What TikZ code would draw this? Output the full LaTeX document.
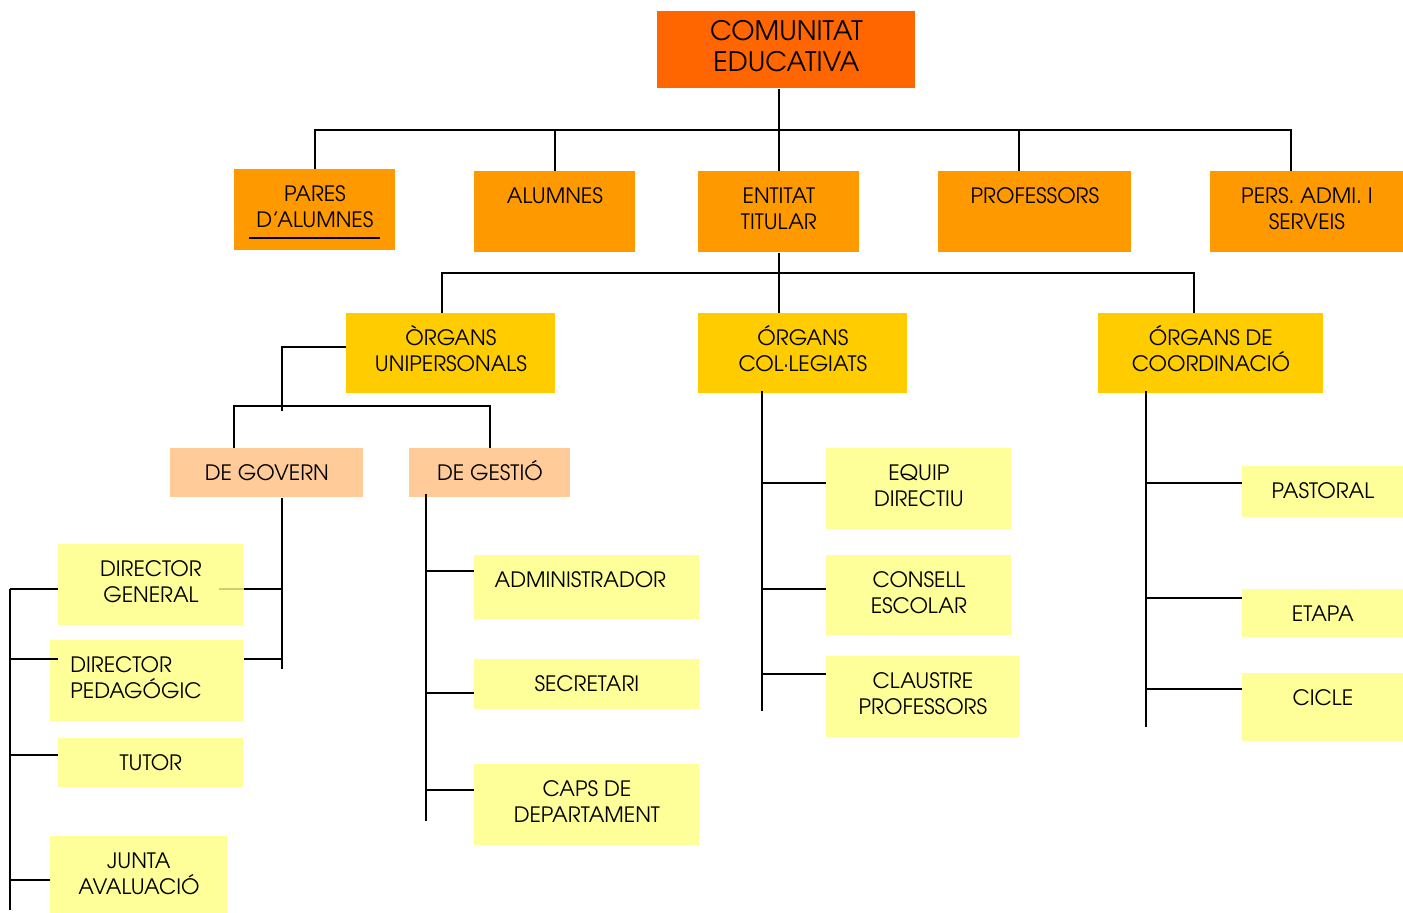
\documentclass[tikz,border=0pt]{standalone}
\usepackage{fontspec}
\setmainfont{TeX Gyre Adventor}
\usetikzlibrary{positioning}

\definecolor{rootorange}{HTML}{FF6600}
\definecolor{grouporange}{HTML}{FF9900}
\definecolor{organyellow}{HTML}{FFCC00}
\definecolor{subpeach}{HTML}{FFCC99}
\definecolor{leafyellow}{HTML}{FFFF99}

\newcommand\capstrut{\rule{0pt}{1em}}

\tikzset{
  box/.style={anchor=north west, inner sep=0pt, draw=none},
  orgbox/.style n args={3}{box, fill=#1, minimum width=#2, minimum height=#3},
  txt/.style={anchor=north, yshift=-5.3pt, align=center, inner sep=0pt,
    font=\fontsize{10.6}{13.3}\selectfont},
  bigtxt/.style={anchor=north, yshift=-1.05pt, align=center, inner sep=0pt,
    font=\fontsize{13.4}{15.5}\selectfont},
  link/.style={line width=1pt},
  faint/.style={line width=1pt, draw=leafyellow!80!black}
}

\begin{document}
\begin{tikzpicture}[x=0.5pt,y=-0.5pt]
  \useasboundingbox (0,0) rectangle (1403,913);

  % top
  \node[orgbox={rootorange}{129pt}{38.5pt}, label={[bigtxt]north:{\capstrut COMUNITAT\\EDUCATIVA}}] (comunitat) at (657,11) {};

  % second row
  \node[orgbox={grouporange}{80.5pt}{40.5pt}, label={[txt]north:{\capstrut PARES\\D’ALUMNES}}] (pares) at (234,169) {};
  \node[orgbox={grouporange}{80.5pt}{40.5pt}, label={[txt]north:{\capstrut ALUMNES}}] (alumnes) at (474,171) {};
  \node[orgbox={grouporange}{80.5pt}{40.5pt}, label={[txt]north:{\capstrut ENTITAT\\TITULAR}}] (entitat) at (698,171) {};
  \node[orgbox={grouporange}{96.5pt}{40.5pt}, label={[txt]north:{\capstrut PROFESSORS}}] (professors) at (938,171) {};
  \node[orgbox={grouporange}{96.5pt}{40.5pt}, label={[txt]north:{\capstrut PERS. ADMI. I\\SERVEIS}}] (pers) at (1210,171) {};

  % organs
  \node[orgbox={organyellow}{104.5pt}{40pt}, label={[txt]north:{\capstrut ÒRGANS\\UNIPERSONALS}}] (unip) at (346,313) {};
  \node[orgbox={organyellow}{104.5pt}{40pt}, label={[txt]north:{\capstrut ÓRGANS\\COL·LEGIATS}}] (colleg) at (698,313) {};
  \node[orgbox={organyellow}{112.5pt}{40pt}, label={[txt]north:{\capstrut ÓRGANS DE\\COORDINACIÓ}}] (coord) at (1098,313) {};

  % unipersonals
  \node[orgbox={subpeach}{96.5pt}{24.5pt}, label={[txt]north:{\capstrut DE GOVERN}}] (govern) at (170,448) {};
  \node[orgbox={subpeach}{80.5pt}{24.5pt}, label={[txt]north:{\capstrut DE GESTIÓ}}] (gestio) at (409,448) {};

  \node[orgbox={leafyellow}{92.5pt}{40.5pt}, label={[txt]north:{\capstrut DIRECTOR\\GENERAL}}] (dirgen) at (58,544) {};
  \node[orgbox={leafyellow}{96.5pt}{40.5pt}, label={[txt, anchor=north west, align=left, xshift=10pt]north west:{\capstrut DIRECTOR\\PEDAGÓGIC}}] (dirped) at (50,640) {};
  \node[orgbox={leafyellow}{92.5pt}{24.5pt}, label={[txt]north:{\capstrut TUTOR}}] (tutor) at (58,738) {};
  \node[orgbox={leafyellow}{88.5pt}{38.5pt}, label={[txt]north:{\capstrut JUNTA\\AVALUACIÓ}}] (junta) at (50,836) {};

  \node[orgbox={leafyellow}{112.5pt}{32pt}, label={[txt, xshift=-3.25pt]north:{\capstrut ADMINISTRADOR}}] (admin) at (474,555) {};
  \node[orgbox={leafyellow}{112.5pt}{25pt}, label={[txt]north:{\capstrut SECRETARI}}] (secretari) at (474,659) {};
  \node[orgbox={leafyellow}{112.5pt}{40.5pt}, label={[txt]north:{\capstrut CAPS DE\\DEPARTAMENT}}] (caps) at (474,764) {};

  % col.legiats
  \node[orgbox={leafyellow}{92.5pt}{40.5pt}, label={[txt]north:{\capstrut EQUIP\\DIRECTIU}}] (equip) at (826,448) {};
  \node[orgbox={leafyellow}{92.5pt}{40pt}, label={[txt]north:{\capstrut CONSELL\\ESCOLAR}}] (consell) at (826,555) {};
  \node[orgbox={leafyellow}{96.5pt}{40.5pt}, label={[txt]north:{\capstrut CLAUSTRE\\PROFESSORS}}] (claustre) at (826,656) {};

  % coordinacio
  \node[orgbox={leafyellow}{80.5pt}{25.5pt}, label={[txt]north:{\capstrut PASTORAL}}] (pastoral) at (1242,466) {};
  \node[orgbox={leafyellow}{80.5pt}{24pt}, label={[txt]north:{\capstrut ETAPA}}] (etapa) at (1242,589) {};
  \node[orgbox={leafyellow}{80.5pt}{34pt}, label={[txt]north:{\capstrut CICLE}}] (cicle) at (1242,673) {};

  \draw[link] ([shift={(7.5pt,-34.5pt)}]pares.north west) -- ([shift={(-8pt,-34.5pt)}]pares.north east);

  % connectors
  \coordinate (bus1) at (0,130);
  \coordinate (bus2) at (0,273);
  \coordinate (bus3) at (0,406);

  \draw[link] (entitat.north) -- (entitat.north |- comunitat.south);
  \draw[link] (pares.north) -- (pares.north |- bus1) -- ([xshift=-8pt]pers.north |- bus1) -- ([xshift=-8pt]pers.north);
  \foreach \n/\dx in {alumnes/0pt, professors/-8pt}
    \draw[link] ([xshift=\dx]\n.north) -- ([xshift=\dx]\n.north |- bus1);

  \draw[link] (entitat.south) -- (entitat.south |- colleg.north);
  \draw[link] ([xshift=-4.25pt]unip.north) -- ([xshift=-4.25pt]unip.north |- bus2) -- ([xshift=-8.25pt]coord.north |- bus2) -- ([xshift=-8.25pt]coord.north);

  \coordinate (govtrunk) at ([xshift=7.75pt]govern.south);
  \draw[link] ([yshift=3pt]unip.west) -| ([yshift=-2.5pt]govtrunk |- bus3);
  \draw[link] ([xshift=-16.25pt]govern.north) |- (gestio.north |- bus3) -- (gestio.north);

  % de govern
  \draw[link] (govtrunk) -- ++(0,-85.5pt);
  \draw[faint] ([yshift=-2.25pt]dirgen.east) -- ++(-12.5pt,0);
  \draw[link] ([yshift=-2.25pt]dirgen.east) -- ([yshift=-2.25pt]dirgen.east -| govtrunk);
  \draw[link] ([yshift=10.75pt]dirped.east) -- ([yshift=10.75pt]dirped.east -| govtrunk);
  \coordinate (lefttrunk) at ([shift={(-24pt,-2.25pt)}]dirgen.west);
  \draw[link] (lefttrunk) -- ++(0,-160.5pt);
  \draw[link] ([yshift=-2.25pt]dirgen.west) -- (lefttrunk);
  \draw[link] ([shift={(4pt,10.75pt)}]dirped.west) -- ++(-24pt,0);
  \draw[link] ([yshift=3.75pt]tutor.west) -- ++(-24pt,0);
  \draw[link] ([yshift=-2.75pt]junta.west) -- ++(-20pt,0);

  % de gestio
  \coordinate (gesttrunk) at ([shift={(8.5pt,2pt)}]gestio.south west);
  \draw[link] (gesttrunk) -- ++(0,-163.5pt);
  \foreach \n/\dy in {admin/8pt, secretari/-4.5pt, caps/7.25pt}
    \draw[link] ([yshift=\dy]\n.west) -- ++(-24pt,0);

  % col.legiats
  \coordinate (collegtrunk) at ([shift={(32pt,1.5pt)}]colleg.south west);
  \draw[link] (collegtrunk) -- ++(0,-160pt);
  \foreach \n/\dy in {equip/2.75pt, consell/3pt, claustre/11.25pt}
    \draw[link] ([yshift=\dy]\n.west) -- ++(-32pt,0);

  % coordinacio
  \coordinate (coordtrunk) at ([shift={(24pt,1.5pt)}]coord.south west);
  \draw[link] (coordtrunk) -- ++(0,-168pt);
  \foreach \n/\dy in {pastoral/4.25pt, etapa/7.5pt, cicle/9pt}
    \draw[link] ([yshift=\dy]\n.west) -- ++(-48pt,0);
\end{tikzpicture}
\end{document}
